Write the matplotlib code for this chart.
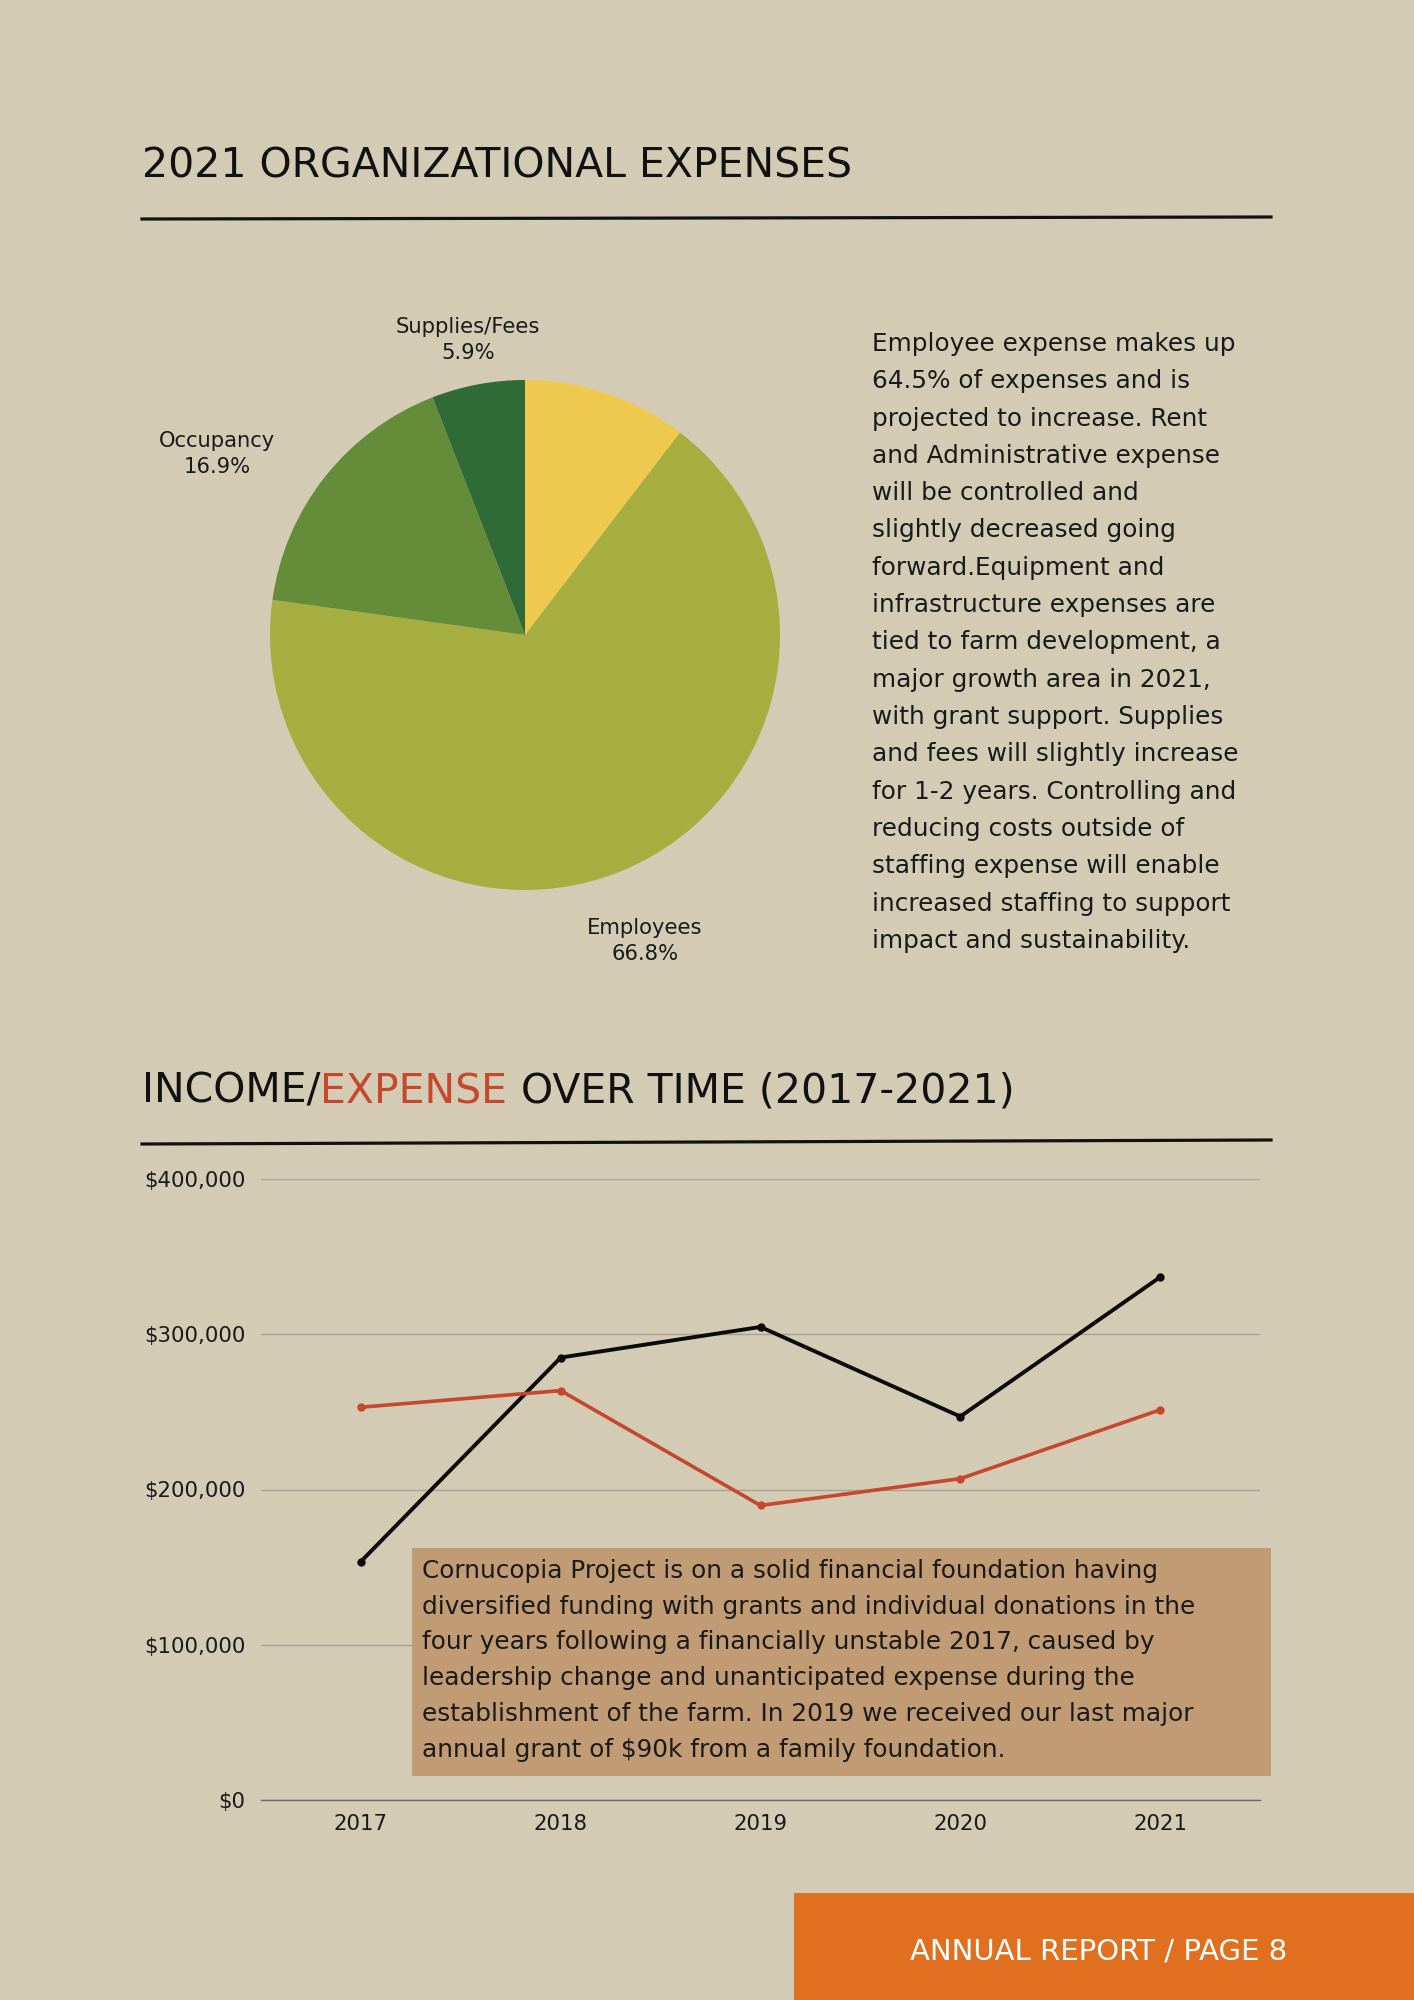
import matplotlib
matplotlib.use('Agg')
import matplotlib.pyplot as plt
from matplotlib.lines import Line2D
from matplotlib.patches import Rectangle
from matplotlib.ticker import FuncFormatter
import numpy as np

# ---------------- data ----------------
pie_labels = ['', 'Employees', 'Occupancy', 'Supplies/Fees']
pie_values = [10.4, 66.8, 16.9, 5.9]

years = [2017, 2018, 2019, 2020, 2021]
income = [153600, 285000, 304700, 247000, 336800]
expense = [253000, 263700, 189700, 207000, 251300]
yticks = [0, 100000, 200000, 300000, 400000]

paragraph = [
    "Employee expense makes up",
    "64.5% of expenses and is",
    "projected to increase. Rent",
    "and Administrative expense",
    "will be controlled and",
    "slightly decreased going",
    "forward.Equipment and",
    "infrastructure expenses are",
    "tied to farm development, a",
    "major growth area in 2021,",
    "with grant support. Supplies",
    "and fees will slightly increase",
    "for 1-2 years. Controlling and",
    "reducing costs outside of",
    "staffing expense will enable",
    "increased staffing to support",
    "impact and sustainability.",
]
box_lines = [
    "Cornucopia Project is on a solid financial foundation having",
    "diversified funding with grants and individual donations in the",
    "four years following a financially unstable 2017, caused by",
    "leadership change and unanticipated expense during the",
    "establishment of the farm. In 2019 we received our last major",
    "annual grant of $90k from a family foundation.",
]

# ---------------- style ----------------
W, H = 1414, 2000
BG = '#d4cbb5'
pie_colors = ['#eec94e', '#a6ae3f', '#648c39', '#2e6b37']
RED = '#c4472e'
FONT = 'DejaVu Sans'
plt.rcParams['font.family'] = [FONT]

def fx(x):
    return x / W

def fy(y):
    return 1 - y / H

fig = plt.figure(figsize=(W / 100, H / 100), dpi=100, facecolor=BG)

# ---- title 1 ----
fig.text(fx(142), fy(166), "2021 ORGANIZATIONAL EXPENSES", fontsize=29.5,
         color='#111111', ha='left', va='center')
fig.add_artist(Line2D([fx(142), fx(1271)], [fy(219), fy(217)], color='#111111', lw=2.3))

# ---- pie ----
cx, cy, r = 525, 635, 255
axp = fig.add_axes([fx(cx - r), fy(cy + r), 2 * r / W, 2 * r / H])
axp.set_facecolor('none')
wedges, _ = axp.pie(pie_values, colors=pie_colors, startangle=90, counterclock=False,
                    radius=1, wedgeprops=dict(linewidth=0))
axp.set_xlim(-1, 1)
axp.set_ylim(-1, 1)
axp.set_aspect('equal')
axp.axis('off')
label_pos = [None, (0.47, -1.2), (-1.208, 0.71), (-0.224, 1.157)]
for lab, val, pos in zip(pie_labels, pie_values, label_pos):
    if not lab:
        continue
    axp.text(pos[0], pos[1], f"{lab}\n{val}%", ha='center', va='center',
             fontsize=15.2, color='#1a1a1a', linespacing=1.35)

# ---- right paragraph ----
for i, line in enumerate(paragraph):
    fig.text(fx(872), fy(344 + i * 37.3), line, fontsize=17.8, color='#1a1a1a',
             ha='left', va='center')

# ---- title 2 (multi-colour) ----
t1 = fig.text(fx(142), fy(1112), "INCOME/", fontsize=29.5, color='#111111',
              ha='left', va='bottom')
t2 = fig.text(0, 0, "EXPENSE", fontsize=29.5, color=RED, ha='left', va='bottom')
t3 = fig.text(0, 0, " OVER TIME (2017-2021)", fontsize=29.5, color='#111111',
              ha='left', va='bottom')
fig.canvas.draw()
rend = fig.canvas.get_renderer()
bb1 = t1.get_window_extent(rend)
t2.set_position((bb1.x1 / W, bb1.y0 / H))
bb2 = t2.get_window_extent(rend)
t3.set_position((bb2.x1 / W, bb2.y0 / H))
fig.add_artist(Line2D([fx(142), fx(1271)], [fy(1144), fy(1140)], color='#111111', lw=2.3))

# ---- line chart ----
ax = fig.add_axes([fx(261), fy(1800), (1260 - 261) / W, (1800 - 1179) / H])
ax.set_facecolor('none')
ax.plot(years, income, color='#0a0a0a', lw=2.8, marker='o', markersize=5, zorder=3)
ax.plot(years, expense, color=RED, lw=2.6, marker='o', markersize=5, zorder=3)
ax.set_xlim(2016.5, 2021.5)
ax.set_ylim(0, 400000)
ax.set_xticks(years)
ax.set_xticklabels([str(y) for y in years])
ax.set_yticks(yticks)
ax.yaxis.set_major_formatter(FuncFormatter(lambda v, p: f"${int(v):,}"))
ax.grid(axis='y', color='#a9a294', lw=1.0)
ax.set_axisbelow(True)
for s in ['top', 'right', 'left']:
    ax.spines[s].set_visible(False)
ax.spines['bottom'].set_color('#6f6a60')
ax.spines['bottom'].set_linewidth(1.0)
ax.tick_params(axis='both', length=0, labelsize=15.3, colors='#1a1a1a')
ax.tick_params(axis='y', pad=11)
ax.tick_params(axis='x', pad=10)

# ---- annotation box ----
fig.add_artist(Rectangle((fx(412), fy(1776)), (1271 - 412) / W, (1776 - 1548) / H,
                         transform=fig.transFigure, facecolor='#c09b73',
                         edgecolor='none', zorder=5))
for i, line in enumerate(box_lines):
    fig.text(fx(422), fy(1571 + i * 35.7), line, fontsize=17.8, color='#1a1a1a',
             ha='left', va='center', zorder=6)

# ---- footer ----
fig.add_artist(Rectangle((fx(794), 0), (W - 794) / W, (2000 - 1893) / H,
                         transform=fig.transFigure, facecolor='#e0701f',
                         edgecolor='none', zorder=5))
fig.text(fx(1099), fy(1951), "ANNUAL REPORT / PAGE 8", fontsize=21, color='white',
         ha='center', va='center', zorder=6)

fig.savefig('out.png', dpi=100, facecolor=BG)
